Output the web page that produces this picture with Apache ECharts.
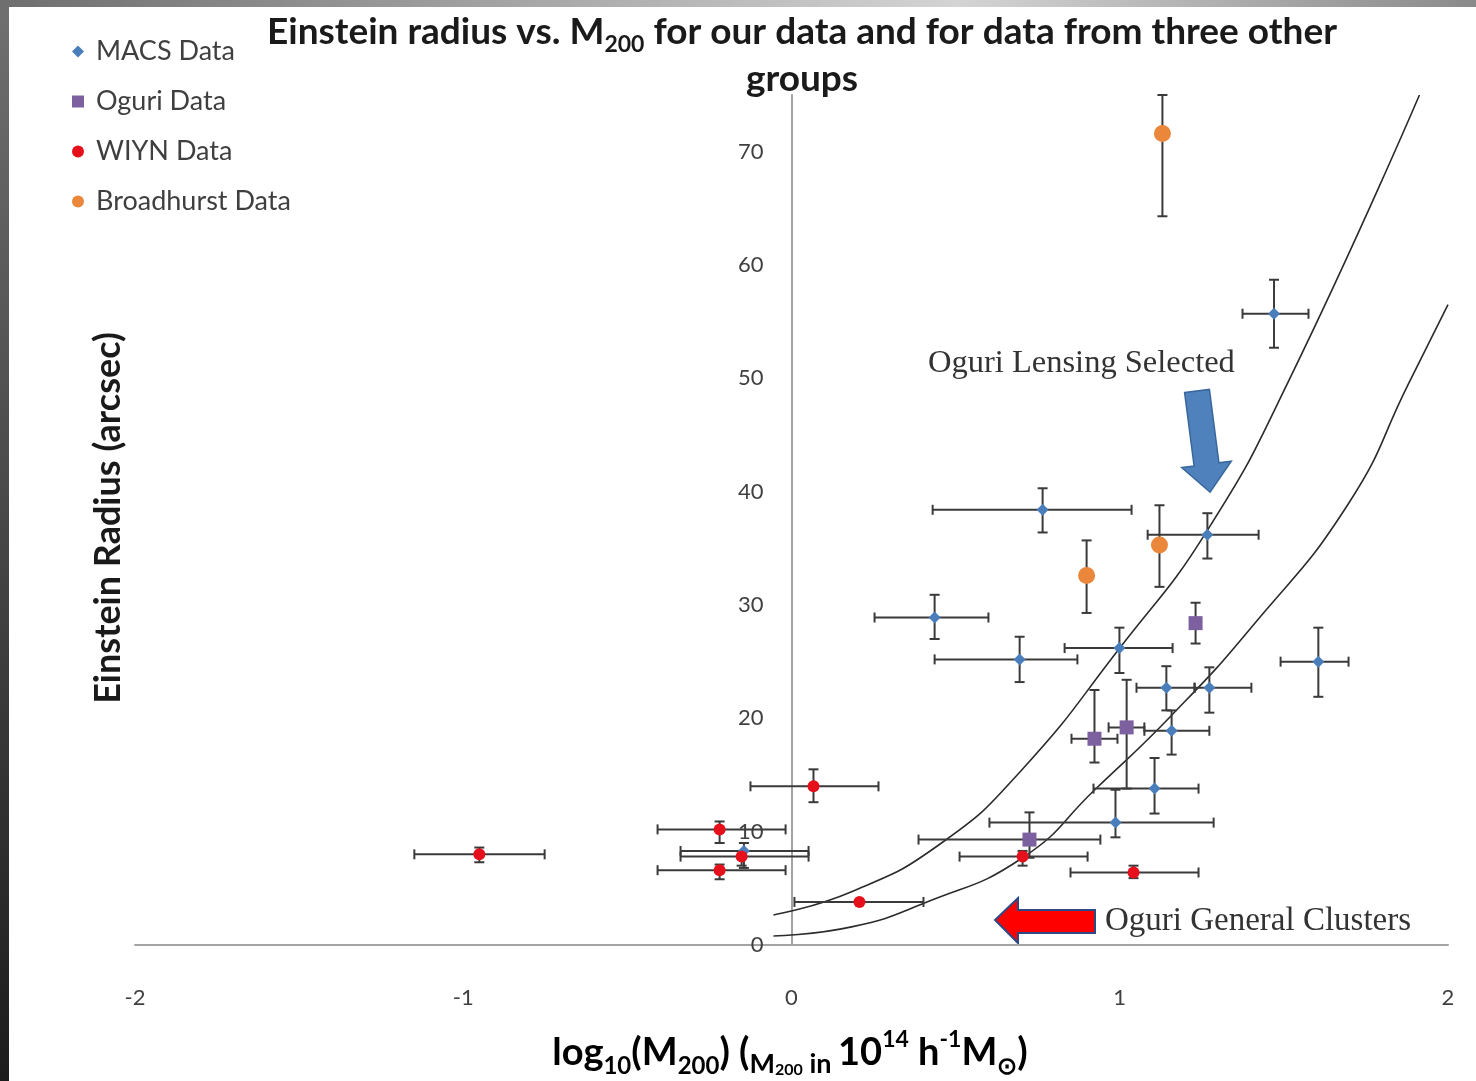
<!DOCTYPE html>
<html>
<head>
<meta charset="utf-8">
<script src="https://cdn.jsdelivr.net/npm/echarts@6/dist/echarts.min.js"></script>
<style>
html,body{margin:0;padding:0;background:#fff;}
#chart{width:1476px;height:1081px;}
</style>
</head>
<body>
<div id="chart"></div>
<script>
// ---------- DATA ----------
// MACS (blue diamonds)
const macsX    = [1.470, 0.765, 1.267, 0.436, 0.695, 0.999, 1.605, 1.142, 1.273, 1.158, 1.106, 0.987, -0.145];
const macsY    = [55.7, 38.4, 36.2, 28.9, 25.2, 26.2, 25.0, 22.7, 22.7, 18.9, 13.8, 10.8, 8.3];
const macsXLo  = [1.374, 0.430, 1.085, 0.253, 0.436, 0.832, 1.490, 1.051, 1.228, 1.075, 0.920, 0.603, -0.338];
const macsXHi  = [1.575, 1.036, 1.423, 0.600, 0.871, 1.161, 1.697, 1.228, 1.401, 1.273, 1.240, 1.286, 0.052];
const macsYLo  = [52.7, 36.4, 34.1, 27.0, 23.2, 24.0, 21.9, 20.7, 20.5, 16.8, 11.6, 9.5, 6.8];
const macsYHi  = [58.7, 40.3, 38.1, 30.9, 27.2, 28.0, 28.0, 24.6, 24.5, 20.7, 16.5, 13.7, 9.0];

// Oguri (purple squares)
const oguriX   = [1.231, 0.923, 1.021, 0.725];
const oguriY   = [28.4, 18.2, 19.2, 9.3];
const oguriXLo = [null, 0.853, 0.966, 0.387];
const oguriXHi = [null, 0.993, 1.075, 0.941];
const oguriYLo = [26.6, 16.1, 13.8, 7.7];
const oguriYHi = [30.2, 22.5, 23.4, 11.7];

// WIYN (red circles)
const wiynX    = [-0.951, -0.219, -0.152, -0.219, 0.067, 0.207, 0.704, 1.042];
const wiynY    = [8.0, 10.2, 7.8, 6.6, 14.0, 3.8, 7.8, 6.4];
const wiynXLo  = [-1.149, -0.408, -0.338, -0.408, -0.125, 0.009, 0.512, 0.850];
const wiynXHi  = [-0.752, -0.018, 0.052, -0.018, 0.265, 0.402, 0.902, 1.240];
const wiynYLo  = [7.3, 9.0, 7.0, 5.8, 12.6, null, 7.0, 5.9];
const wiynYHi  = [8.6, 10.9, 8.3, 7.1, 15.5, null, 8.3, 7.0];

// Broadhurst (orange circles)
const broadX   = [1.130, 0.899, 1.121];
const broadY   = [71.6, 32.6, 35.3];
const broadXLo = [null, null, null];
const broadXHi = [null, null, null];
const broadYLo = [64.3, 29.3, 31.6];
const broadYHi = [75.0, 35.7, 38.8];

// Oguri model curves
const upperCurveX = [-0.055, 0.183, 0.457, 0.70, 1.0, 1.265, 1.515, 1.913];
const upperCurveY = [2.65, 4.7, 9.0, 15.4, 26.2, 36.5, 49.8, 75.0];
const lowerCurveX = [-0.055, 0.183, 0.405, 0.704, 0.924, 1.159, 1.40, 1.698, 1.881, 2.0];
const lowerCurveY = [0.8, 1.6, 3.7, 7.7, 13.7, 20.3, 28.0, 39.0, 49.6, 56.5];

const xTicks = [-2, -1, 0, 1, 2];
const yTicks = [0, 10, 20, 30, 40, 50, 60, 70];

const seriesNames = ['MACS Data', 'Oguri Data', 'WIYN Data', 'Broadhurst Data'];

// ---------- CHART ----------
const chart = echarts.init(document.getElementById('chart'));
const FONT = 'Lato';
const GRID_LEFT = 135, GRID_RIGHT = 28;
const PLOT_W = 1476 - GRID_LEFT - GRID_RIGHT;
// pixel offset that puts the y axis at x = 0
const Y_AXIS_OFFSET = -PLOT_W * (0 - xTicks[0]) / (xTicks[xTicks.length - 1] - xTicks[0]);

function pairs(xs, ys) { return xs.map((x, i) => [x, ys[i]]); }

function errSeries(xs, ys, xl, xh, yl, yh) {
  return {
    type: 'custom',
    silent: true,
    z: 3,
    data: pairs(xs, ys),
    encode: { x: 0, y: 1 },
    renderItem: function (params, api) {
      const i = params.dataIndex;
      const st = { stroke: '#3a3a3a', lineWidth: 2 };
      const ch = [];
      const cap = 5;
      if (xl[i] != null && xh[i] != null) {
        const a = api.coord([xl[i], ys[i]]), b = api.coord([xh[i], ys[i]]);
        ch.push({ type: 'line', shape: { x1: a[0], y1: a[1], x2: b[0], y2: b[1] }, style: st });
        ch.push({ type: 'line', shape: { x1: a[0], y1: a[1] - cap, x2: a[0], y2: a[1] + cap }, style: st });
        ch.push({ type: 'line', shape: { x1: b[0], y1: b[1] - cap, x2: b[0], y2: b[1] + cap }, style: st });
      }
      if (yl[i] != null && yh[i] != null) {
        const a = api.coord([xs[i], yl[i]]), b = api.coord([xs[i], yh[i]]);
        ch.push({ type: 'line', shape: { x1: a[0], y1: a[1], x2: b[0], y2: b[1] }, style: st });
        ch.push({ type: 'line', shape: { x1: a[0] - cap, y1: a[1], x2: a[0] + cap, y2: a[1] }, style: st });
        ch.push({ type: 'line', shape: { x1: b[0] - cap, y1: b[1], x2: b[0] + cap, y2: b[1] }, style: st });
      }
      return { type: 'group', children: ch };
    }
  };
}

function curveSeries(xs, ys) {
  return {
    type: 'line', data: pairs(xs, ys), smooth: 0.5,
    showSymbol: false, symbol: 'none', silent: true, z: 2,
    lineStyle: { color: '#2b2b2b', width: 1.6 }
  };
}

// arrow shapes (annotations)
const blueArrow = [[1184.6, 392.6], [1209.4, 389.4], [1218.9, 462.8], [1231.3, 461.2], [1210.1, 492.2], [1181.7, 467.6], [1194.1, 466.0]];
const redArrow = [[995, 920], [1018, 898], [1018, 910], [1095, 910], [1095, 933], [1018, 933], [1018, 943]];

const subStyle = (fs) => ({ fontSize: fs, fontWeight: 'bold', fontFamily: FONT, color: '#1a1a1a', lineHeight: fs, verticalAlign: 'bottom' });
const supStyle = (fs) => ({ fontSize: fs, fontWeight: 'bold', fontFamily: FONT, color: '#1a1a1a', lineHeight: fs, verticalAlign: 'top' });

const option = {
  backgroundColor: '#ffffff',
  animation: false,
  title: {
    left: 797, top: 4, textAlign: 'center',
    text: '{b|Einstein radius vs. M}{s|200}{b| for our data and for data from three other}\n{b|groups}',
    textStyle: {
      rich: {
        b: { fontSize: 37, fontWeight: 'bold', fontFamily: FONT, color: '#1a1a1a', lineHeight: 47 },
        s: subStyle(23)
      }
    }
  },
  legend: {
    orient: 'vertical', left: 72, top: 38, padding: 0,
    itemWidth: 12, itemHeight: 12, itemGap: 23,
    textStyle: { fontSize: 27, fontFamily: FONT, color: '#3f3f3f', lineHeight: 26, padding: [0, 0, 0, 7] },
    data: [
      { name: seriesNames[0], icon: 'diamond' },
      { name: seriesNames[1], icon: 'rect' },
      { name: seriesNames[2], icon: 'circle' },
      { name: seriesNames[3], icon: 'circle' }
    ]
  },
  grid: { left: GRID_LEFT, right: GRID_RIGHT, top: 95, bottom: 136, containLabel: false },
  xAxis: {
    type: 'value', min: xTicks[0], max: xTicks[xTicks.length - 1], interval: 1,
    axisLine: { show: true, lineStyle: { color: '#a3a3a3', width: 2 } },
    axisTick: { show: false }, splitLine: { show: false },
    axisLabel: { margin: 42, fontSize: 22, fontFamily: FONT, color: '#404040' }
  },
  yAxis: {
    type: 'value', min: yTicks[0], max: 75, interval: 10,
    position: 'left', offset: Y_AXIS_OFFSET,
    axisLine: { show: true, onZero: false, lineStyle: { color: '#a3a3a3', width: 2 } },
    axisTick: { show: false }, splitLine: { show: false },
    axisLabel: { margin: 28, fontSize: 22, fontFamily: FONT, color: '#404040', showMaxLabel: false }
  },
  series: [
    curveSeries(upperCurveX, upperCurveY),
    curveSeries(lowerCurveX, lowerCurveY),
    errSeries(macsX, macsY, macsXLo, macsXHi, macsYLo, macsYHi),
    errSeries(oguriX, oguriY, oguriXLo, oguriXHi, oguriYLo, oguriYHi),
    errSeries(wiynX, wiynY, wiynXLo, wiynXHi, wiynYLo, wiynYHi),
    errSeries(broadX, broadY, broadXLo, broadXHi, broadYLo, broadYHi),
    { name: seriesNames[0], type: 'scatter', symbol: 'diamond', symbolSize: 12, z: 5,
      itemStyle: { color: '#4a7ebb', opacity: 1 }, data: pairs(macsX, macsY) },
    { name: seriesNames[1], type: 'scatter', symbol: 'rect', symbolSize: 14, z: 5,
      itemStyle: { color: '#7d60a0', opacity: 1 }, data: pairs(oguriX, oguriY) },
    { name: seriesNames[2], type: 'scatter', symbol: 'circle', symbolSize: 12, z: 6,
      itemStyle: { color: '#e5101b', opacity: 1 }, data: pairs(wiynX, wiynY) },
    { name: seriesNames[3], type: 'scatter', symbol: 'circle', symbolSize: 17, z: 5,
      itemStyle: { color: '#ea873b', opacity: 1 }, data: pairs(broadX, broadY) }
  ],
  graphic: [
    // frame strips
    { type: 'rect', left: 0, top: 0, shape: { width: 9, height: 1081 }, silent: true,
      style: { fill: new echarts.graphic.LinearGradient(0, 0, 0, 1, [{ offset: 0, color: '#707070' }, { offset: 1, color: '#1c1c1c' }]) } },
    { type: 'rect', left: 0, top: 0, shape: { width: 1476, height: 7 }, silent: true,
      style: { fill: new echarts.graphic.LinearGradient(0, 0, 1, 0, [{ offset: 0, color: '#6e6e6e' }, { offset: 0.65, color: '#d4d4d4' }, { offset: 1, color: '#8a8a8a' }]) } },
    // y axis name
    { type: 'text', x: 108, y: 518, rotation: Math.PI / 2, silent: true,
      style: { text: 'Einstein Radius (arcsec)', align: 'center', verticalAlign: 'middle',
        font: 'bold 36px ' + FONT, fill: '#1a1a1a' } },
    // x axis name
    { type: 'text', x: 790, y: 1053, silent: true,
      style: {
        text: '{b|log}{s|10}{b|(M}{s|200}{b|) (}{m|M}{ss|200}{m| in }{b|10}{p|14}{b| h}{p|-1}{b|M}{s|⊙}{b|)}',
        align: 'center', verticalAlign: 'middle',
        rich: {
          b: { fontSize: 38, fontWeight: 'bold', fontFamily: FONT, color: '#1a1a1a', lineHeight: 50 },
          s: subStyle(24),
          m: { fontSize: 27, fontWeight: 'bold', fontFamily: FONT, color: '#1a1a1a', lineHeight: 36, verticalAlign: 'bottom' },
          ss: subStyle(16),
          p: supStyle(23)
        }
      } },
    // annotations
    { type: 'text', x: 928, y: 363, silent: true,
      style: { text: 'Oguri Lensing Selected', align: 'left', verticalAlign: 'middle',
        font: '32.5px "Liberation Serif"', fill: '#333333' } },
    { type: 'polygon', silent: true, shape: { points: blueArrow },
      style: { fill: '#4f81bd', stroke: '#38679c', lineWidth: 1.5 } },
    { type: 'polygon', silent: true, shape: { points: redArrow },
      style: { fill: '#ff0000', stroke: '#2e4a86', lineWidth: 2 } },
    { type: 'text', x: 1105, y: 921, silent: true,
      style: { text: 'Oguri General Clusters', align: 'left', verticalAlign: 'middle',
        font: '33px "Liberation Serif"', fill: '#333333' } }
  ]
};
chart.setOption(option);
</script>
</body>
</html>
